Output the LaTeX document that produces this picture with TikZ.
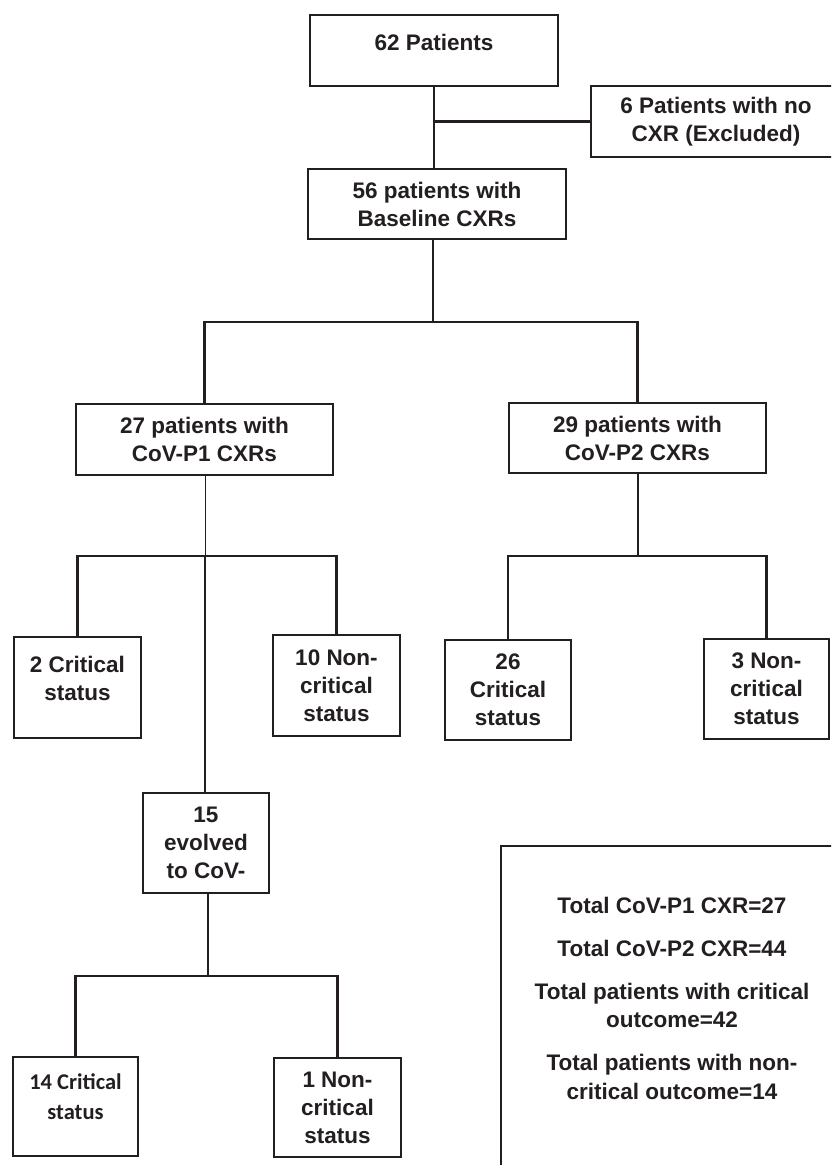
\documentclass[tikz,border=0pt]{standalone}
\usepackage{fontspec}
\setmainfont{Liberation Sans}
\newfontfamily\calibfont{Carlito}
\definecolor{ink}{RGB}{35,31,32}
\newcommand{\liftbox}[2]{\raisebox{#1}[\height][\depth]{\begin{tabular}{@{}c@{}}#2\end{tabular}}}
\tikzset{
  box/.style={draw=ink, line width=2.2pt, rectangle, inner sep=0pt, align=center,
    text=ink, font=\bfseries\fontsize{22.5}{28}\selectfont},
  cbox/.style={box, font=\calibfont\bfseries\fontsize{22.5}{30}\selectfont},
  link/.style={draw=ink, line width=2.2pt},
  thinlink/.style={draw=ink, line width=1pt},
  sumbox/.style={draw=ink, line width=1.5pt, rectangle, inner sep=0pt},
  sumtxt/.style={align=center, text=ink, inner sep=0pt,
    font=\bfseries\fontsize{22.5}{28.5}\selectfont}
}
\begin{document}
\begin{tikzpicture}[x=1pt,y=-1pt]
\path[use as bounding box] (0,0) rectangle (831,1165);
\clip (0,0) rectangle (831,1165);
\fill[white] (0,0) rectangle (831,1165);

% boxes
\node[box, minimum width=248pt, minimum height=71pt] (n62) at (434,50.5) {\liftbox{6pt}{62 Patients}};
\node[box, minimum width=250pt, minimum height=71pt] (nexc) at (716,121.5) {6 Patients with no\\CXR (Excluded)};
\node[box, minimum width=258pt, minimum height=70pt] (n56) at (437,204) {56 patients with\\Baseline CXRs};
\node[box, minimum width=257pt, minimum height=71pt] (np1) at (204.5,439.5) {27 patients with\\CoV-P1 CXRs};
\node[box, minimum width=257pt, minimum height=70pt] (np2) at (637.5,438) {29 patients with\\CoV-P2 CXRs};
\node[box, minimum width=127pt, minimum height=101pt] (c2) at (77.5,687.5) {\liftbox{7pt}{2 Critical\\status}};
\node[box, minimum width=127pt, minimum height=101pt] (c10) at (336.5,685.5) {10 Non-\\critical\\status};
\node[box, minimum width=126pt, minimum height=100pt] (c26) at (508,690) {26\\Critical\\status};
\node[box, minimum width=125pt, minimum height=100pt] (c3) at (766.5,689) {3 Non-\\critical\\status};
\node[box, minimum width=126pt, minimum height=100pt] (c15) at (206,843) {15\\evolved\\to CoV-};
\node[cbox, minimum width=125pt, minimum height=99pt] (c14) at (75.5,1106.5) {\liftbox{8pt}{14 Critical\\status}};
\node[box, minimum width=127pt, minimum height=99pt] (c1) at (337.5,1107.5) {1 Non-\\critical\\status};

% summary
\node[sumbox, anchor=north west, minimum width=346pt, minimum height=345pt] (sumbox) at (500,845) {};
\node[sumtxt] (sumt) at (672,998) {Total CoV-P1 CXR=27\\[14.5pt]Total CoV-P2 CXR=44\\[14.5pt]Total patients with critical\\outcome=42\\[14.5pt]Total patients with non-\\critical outcome=14};

% junctions
\coordinate (j1) at (433,322);
\coordinate (j2) at (205,556);
\coordinate (j3) at (638,556);
\coordinate (j4) at (208,976);

% connectors
\draw[link] (n62.south) -- (n62.south |- n56.north);
\draw[link] (n62.south |- nexc.west) -- (nexc.west);
\draw[link] (n56.south -| j1) -- (j1);
\draw[link] (np1.north) |- (j1) -| (np2.north);
\draw[thinlink] (np1.south -| j2) -- (j2);
\draw[link] (j2) -- (j2 |- c15.north);
\draw[link] (c2.north) |- (j2) -| (c10.north);
\draw[link] (np2.south -| j3) -- (j3);
\draw[link] (c26.north) |- (j3) -| (c3.north);
\draw[link] (c15.south -| j4) -- (j4);
\draw[link] (c14.north) |- (j4) -| (c1.north);
\end{tikzpicture}
\end{document}
